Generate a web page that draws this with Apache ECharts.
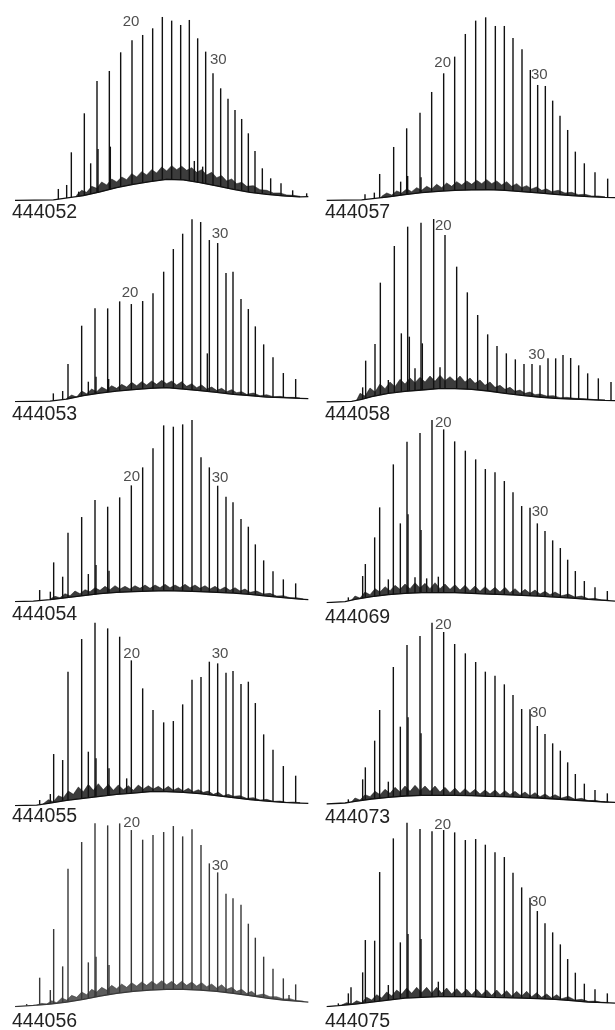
<!DOCTYPE html>
<html>
<head>
<meta charset="utf-8">
<script src="https://cdn.jsdelivr.net/npm/echarts@6/dist/echarts.min.js"></script>
<style>
html,body{margin:0;padding:0;background:#fff;}
#chart{width:615px;height:1030px;}
</style>
</head>
<body>
<div id="chart"></div>
<script>
// Gas chromatograms of ten samples. Units: retention (arbitrary, 0-930) vs. abundance (arbitrary, 0-600)
const sampleIds = ['444052','444057','444053','444058','444054','444069','444055','444073','444056','444075'];

// ---- 444052 ----
const peaks444052 = [[175,34],[200,46],[214,144],[236,26],[253,261],[272,111],[291,358],[294,154],[328,388],[331,161],[362,444],[396,480],[428,496],[458,516],[487,550],[515,539],[542,526],[568,541],[583,118],[593,486],[608,101],[617,446],[639,381],[662,336],[684,305],[705,271],[725,244],[745,201],[765,148],[787,96],[812,66],[843,51],[878,30],[920,21]];
const humpLow444052 = [[45,0],[160,1],[250,14],[300,25],[350,38],[400,48],[450,56],[500,63],[550,61],[600,53],[650,43],[700,33],[750,24],[800,18],[850,13],[900,10],[925,11]];
const humpHigh444052 = [[230,16],[245,30],[260,24],[275,42],[290,36],[305,55],[320,46],[335,64],[350,55],[365,70],[380,62],[395,80],[410,70],[425,86],[440,76],[455,92],[470,82],[485,100],[500,88],[515,104],[530,92],[545,102],[560,90],[575,98],[590,84],[605,92],[620,76],[635,84],[650,68],[665,74],[680,58],[695,64],[710,50],[725,54],[740,42],[760,44],[780,32],[800,30],[820,22],[840,22],[860,16],[880,15],[900,12]];
const tags444052 = [[393,536,'20'],[655,421,'30']];

// ---- 444057 ----
const peaks444057 = [[180,18],[208,23],[224,79],[266,160],[287,56],[305,216],[308,73],[345,263],[348,69],[380,325],[416,381],[449,431],[481,499],[512,539],[542,549],[571,523],[598,523],[624,487],[651,453],[676,391],[698,346],[721,343],[743,299],[765,254],[788,211],[811,146],[838,111],[870,84],[908,65]];
const humpLow444057 = [[65,0],[170,1],[250,10],[300,17],[350,23],[400,27],[450,30],[500,31],[550,32],[600,30],[650,26],[700,22],[750,18],[800,14],[850,11],[900,9],[930,8]];
const humpHigh444057 = [[230,12],[245,22],[260,16],[275,28],[290,22],[305,34],[320,26],[335,38],[350,30],[365,42],[380,34],[395,48],[410,38],[425,52],[440,42],[455,56],[470,46],[485,58],[500,48],[515,60],[530,50],[545,62],[560,50],[575,58],[590,46],[605,56],[620,42],[635,50],[650,38],[665,44],[680,34],[695,40],[710,30],[725,34],[740,26],[760,30],[780,22],[800,24],[820,17],[840,18],[860,13],[880,13],[900,10]];
const tags444057 = [[413,411,'20'],[703,375,'30']];

// ---- 444053 ----
const peaks444053 = [[160,25],[188,32],[204,113],[245,228],[265,60],[285,280],[288,75],[323,280],[326,68],[359,301],[394,293],[428,302],[459,325],[491,390],[520,458],[548,504],[576,547],[602,539],[622,145],[628,485],[653,476],[678,386],[699,390],[723,308],[745,278],[766,226],[791,172],[819,133],[850,86],[887,68]];
const humpLow444053 = [[45,0],[150,2],[200,8],[250,18],[300,26],[350,32],[400,36],[450,40],[500,42],[550,38],[600,33],[650,28],[700,22],[750,18],[800,14],[850,12],[900,10],[925,9]];
const humpHigh444053 = [[200,10],[215,20],[230,14],[245,32],[260,24],[275,38],[290,30],[305,44],[320,36],[335,48],[350,40],[365,52],[380,44],[395,58],[410,48],[425,60],[440,50],[455,62],[470,52],[485,64],[500,54],[515,62],[530,50],[545,60],[560,46],[575,54],[590,42],[605,50],[620,38],[635,44],[650,34],[665,40],[680,30],[695,36],[710,27],[725,30],[740,22],[760,26],[780,18],[800,21],[820,15],[840,16],[860,13],[880,13],[900,11]];
const tags444053 = [[390,327,'20'],[660,505,'30']];

// ---- 444058 ----
const peaks444058 = [[173,44],[182,124],[210,174],[226,358],[250,66],[268,468],[289,206],[308,526],[313,196],[330,101],[348,538],[352,176],[386,549],[405,104],[420,501],[455,406],[487,329],[518,261],[548,203],[576,168],[604,146],[631,128],[657,114],[681,114],[705,110],[729,131],[752,131],[774,141],[797,132],[821,110],[848,86],[880,71],[918,60]];
const humpLow444058 = [[65,0],[140,2],[170,8],[200,16],[250,26],[300,32],[350,36],[400,40],[450,40],[500,38],[550,33],[600,26],[650,20],[700,15],[750,11],[800,9],[850,7],[900,5],[930,4]];
const humpHigh444058 = [[155,6],[165,26],[180,18],[195,42],[210,30],[225,54],[240,40],[255,60],[270,46],[285,68],[300,54],[315,72],[330,58],[345,74],[360,60],[375,78],[390,62],[405,80],[420,64],[435,76],[450,62],[465,78],[480,60],[495,72],[510,56],[525,66],[540,50],[555,60],[570,44],[585,50],[600,38],[615,44],[630,32],[645,36],[660,26],[675,30],[690,22],[705,24],[725,18],[745,19],[765,13],[785,14],[810,11],[840,10],[870,7],[900,6]];
const tags444058 = [[415,528,'20'],[695,141,'30']];

// ---- 444054 ----
const peaks444054 = [[119,35],[151,30],[161,118],[188,75],[204,207],[245,254],[265,83],[285,305],[288,110],[323,285],[327,93],[359,313],[394,349],[428,403],[459,460],[491,529],[520,525],[548,532],[576,545],[603,433],[628,403],[653,348],[678,315],[699,298],[723,248],[745,225],[766,172],[791,124],[819,91],[850,67],[887,55]];
const humpLow444054 = [[45,0],[100,2],[150,6],[200,12],[250,18],[300,24],[350,28],[400,30],[450,32],[500,33],[550,32],[600,30],[650,28],[700,26],[750,22],[800,17],[850,12],[900,8],[925,6]];
const humpHigh444054 = [[150,8],[165,16],[180,12],[195,24],[210,18],[225,32],[240,24],[255,36],[270,30],[285,42],[300,34],[315,46],[330,36],[345,48],[360,38],[375,46],[390,38],[405,48],[420,40],[435,50],[450,40],[465,50],[480,42],[495,52],[510,42],[525,50],[540,42],[555,52],[570,42],[585,50],[600,40],[615,48],[630,38],[645,46],[660,36],[675,44],[690,34],[705,42],[720,32],[735,38],[750,28],[770,32],[790,23],[810,25],[830,17],[850,18],[870,12],[890,12],[910,8]];
const tags444054 = [[395,375,'20'],[660,373,'30']];

// ---- 444069 ----
const peaks444069 = [[130,16],[173,80],[181,116],[209,196],[224,286],[250,70],[265,415],[286,238],[306,483],[309,265],[330,76],[345,509],[348,218],[365,73],[381,548],[400,78],[416,520],[449,484],[481,456],[512,430],[541,401],[570,391],[598,365],[624,331],[650,290],[675,285],[697,238],[720,215],[743,187],[766,164],[788,129],[811,95],[838,65],[870,46],[907,35]];
const humpLow444069 = [[65,0],[120,3],[150,10],[200,18],[250,24],[300,28],[350,30],[400,30],[450,30],[500,28],[550,26],[600,24],[650,22],[700,20],[750,17],[800,14],[850,10],[900,7],[930,5]];
const humpHigh444069 = [[140,8],[150,20],[165,14],[180,32],[195,24],[210,42],[225,32],[240,48],[255,36],[270,52],[285,40],[300,56],[315,42],[330,60],[345,44],[360,58],[375,42],[390,60],[405,42],[420,56],[435,40],[450,54],[465,38],[480,52],[495,36],[510,50],[525,34],[540,48],[555,34],[570,46],[585,32],[600,46],[615,30],[630,42],[645,28],[660,40],[675,28],[690,38],[705,26],[720,34],[735,24],[750,32],[770,21],[790,26],[810,17],[830,20],[850,12],[870,13],[890,8],[910,8]];
const tags444069 = [[415,541,'20'],[705,273,'30']];

// ---- 444055 ----
const peaks444055 = [[119,17],[151,35],[161,155],[188,137],[204,402],[245,500],[265,162],[285,549],[288,142],[323,532],[327,112],[359,507],[380,82],[394,436],[428,352],[459,287],[491,250],[520,254],[548,304],[576,378],[603,386],[628,432],[653,427],[678,399],[699,404],[723,365],[745,372],[766,308],[791,214],[819,168],[850,119],[887,90]];
const humpLow444055 = [[45,0],[110,2],[150,8],[200,16],[250,22],[300,28],[350,34],[400,38],[450,42],[500,42],[550,40],[600,36],[650,30],[700,24],[750,18],[800,14],[850,10],[900,8],[925,7]];
const humpHigh444055 = [[130,6],[145,18],[160,12],[175,30],[190,24],[205,44],[220,34],[235,56],[250,42],[265,64],[280,46],[295,66],[310,48],[325,64],[340,46],[355,62],[370,48],[385,60],[400,46],[415,62],[430,50],[445,60],[460,50],[475,58],[490,48],[505,58],[520,46],[535,54],[550,44],[565,52],[580,42],[595,48],[610,40],[625,44],[640,34],[655,40],[670,30],[685,34],[700,28],[720,30],[740,22],[760,24],[780,17],[800,19],[820,13],[840,14],[860,10],[880,11],[900,9]];
const tags444055 = [[395,457,'20'],[660,455,'30']];

// ---- 444073 ----
const peaks444073 = [[130,14],[173,74],[181,110],[209,190],[224,282],[250,67],[265,411],[286,232],[306,477],[309,260],[345,504],[348,212],[381,544],[416,516],[449,480],[481,452],[512,426],[541,397],[570,385],[598,359],[624,327],[650,285],[675,284],[697,234],[720,210],[743,182],[766,160],[788,125],[811,90],[838,61],[870,42],[907,32]];
const humpLow444073 = [[65,0],[120,3],[150,8],[200,15],[250,20],[300,24],[350,26],[400,26],[450,26],[500,25],[550,23],[600,22],[650,20],[700,18],[750,15],[800,12],[850,9],[900,6],[930,5]];
const humpHigh444073 = [[140,7],[150,18],[165,12],[180,28],[195,22],[210,38],[225,28],[240,44],[255,32],[270,50],[285,36],[300,54],[315,38],[330,56],[345,40],[360,54],[375,38],[390,54],[405,36],[420,50],[435,34],[450,48],[465,32],[480,46],[495,32],[510,44],[525,30],[540,42],[555,30],[570,42],[585,28],[600,40],[615,28],[630,38],[645,26],[660,36],[675,24],[690,34],[705,22],[720,30],[735,20],[750,28],[770,18],[790,24],[810,14],[830,17],[850,10],[870,11],[890,7],[910,7]];
const tags444073 = [[415,536,'20'],[700,274,'30']];

// ---- 444056 ----
const peaks444056 = [[80,8],[119,87],[151,50],[161,233],[188,121],[204,414],[245,494],[265,133],[285,550],[288,150],[323,544],[327,125],[359,550],[394,530],[428,501],[459,515],[491,524],[520,542],[548,511],[576,532],[603,485],[628,430],[653,403],[678,339],[699,325],[723,306],[745,249],[766,207],[791,150],[819,114],[850,85],[867,35],[887,67]];
const humpLow444056 = [[45,0],[100,4],[150,8],[200,14],[250,22],[300,32],[350,40],[400,46],[450,50],[500,52],[550,52],[600,50],[650,46],[700,40],[750,33],[800,26],[850,20],[900,16],[925,14]];
const humpHigh444056 = [[110,5],[125,10],[140,8],[155,18],[170,12],[185,26],[200,20],[215,34],[230,28],[245,44],[260,36],[275,52],[290,44],[305,58],[320,50],[335,64],[350,54],[365,68],[380,58],[395,72],[410,62],[425,74],[440,64],[455,76],[470,66],[485,78],[500,66],[515,76],[530,64],[545,76],[560,64],[575,74],[590,62],[605,72],[620,60],[635,68],[650,56],[665,66],[680,52],[695,58],[710,46],[725,52],[740,40],[755,46],[770,34],[790,38],[810,30],[830,30],[850,23],[870,24],[890,18],[910,17]];
const tags444056 = [[395,553,'20'],[660,423,'30']];

// ---- 444075 ----
const peaks444075 = [[100,10],[130,40],[138,58],[173,103],[181,200],[209,198],[224,404],[250,65],[265,505],[286,193],[306,552],[309,218],[345,533],[348,203],[381,526],[400,75],[416,530],[449,523],[481,500],[512,503],[541,486],[570,463],[598,449],[624,402],[650,358],[675,327],[697,287],[720,250],[743,223],[766,187],[788,143],[811,102],[838,69],[870,52],[907,40]];
const humpLow444075 = [[65,0],[100,3],[150,8],[200,14],[250,20],[300,26],[350,28],[400,30],[450,30],[500,30],[550,28],[600,27],[650,26],[700,24],[750,22],[800,18],[850,14],[900,12],[930,11]];
const humpHigh444075 = [[110,5],[125,12],[140,8],[155,18],[170,12],[185,28],[200,20],[215,36],[230,26],[245,44],[260,32],[275,50],[290,38],[305,56],[320,40],[335,58],[350,42],[365,58],[380,40],[395,58],[410,40],[425,56],[440,38],[455,54],[470,38],[485,52],[500,36],[515,52],[530,36],[545,50],[560,34],[575,50],[590,34],[605,48],[620,32],[635,46],[650,32],[665,46],[680,30],[695,42],[710,28],[725,38],[740,26],[755,36],[770,24],[790,30],[810,20],[830,22],[850,16],[870,17],[890,13],[910,13]];
const tags444075 = [[413,545,'20'],[700,315,'30']];

const peakSets = [peaks444052,peaks444057,peaks444053,peaks444058,peaks444054,peaks444069,peaks444055,peaks444073,peaks444056,peaks444075];
const lowSets = [humpLow444052,humpLow444057,humpLow444053,humpLow444058,humpLow444054,humpLow444069,humpLow444055,humpLow444073,humpLow444056,humpLow444075];
const highSets = [humpHigh444052,humpHigh444057,humpHigh444053,humpHigh444058,humpHigh444054,humpHigh444069,humpHigh444055,humpHigh444073,humpHigh444056,humpHigh444075];
const tagSets = [tags444052,tags444057,tags444053,tags444058,tags444054,tags444069,tags444055,tags444073,tags444056,tags444075];

// ---- layout (pixels) ----
const baselines = [200.3,200.3,401.7,402,601.7,602.7,805.7,804,1006.7,1006.7];
const labelCenters = [213,213,415,415,615.5,618.5,817,818.5,1022.5,1022.5];
const traceColors = ['#111','#111','#111','#111','#111','#111','#111','#111','#383838','#111'];

function baseAt(low, x){
  if (x <= low[0][0]) return low[0][1];
  for (let i=1;i<low.length;i++){
    if (x <= low[i][0]){
      const a=low[i-1], b=low[i];
      return a[1] + (b[1]-a[1])*(x-a[0])/(b[0]-a[0]);
    }
  }
  return low[low.length-1][1];
}

const grids=[], xAxes=[], yAxes=[], series=[], titles=[];
sampleIds.forEach((id,i)=>{
  const col = i%2;
  const left = col===0 ? 0 : 305;
  grids.push({left:left, top:baselines[i]-200, width:310, height:200});
  xAxes.push({type:'value', gridIndex:i, min:0, max:930, show:false});
  yAxes.push({type:'value', gridIndex:i, min:0, max:600, show:false});
  titles.push({text:id, left: col===0?12:325, top: labelCenters[i]-10.8, padding:0,
    textStyle:{fontSize:19.5, fontWeight:'normal', color:'#222', fontFamily:'Liberation Sans, Arial, sans-serif'}});
  const low = lowSets[i];
  const high = highSets[i];
  const color = traceColors[i];
  const x0 = high[0][0], x1 = high[high.length-1][0];
  // noise band (unresolved complex mixture)
  series.push({type:'custom', xAxisIndex:i, yAxisIndex:i, data:[[0,0]], silent:true, z:1,
    renderItem:(params, api)=>{
      const pts = [api.coord([x0, baseAt(low,x0)])];
      high.forEach(p=>pts.push(api.coord([p[0],p[1]])));
      pts.push(api.coord([x1, baseAt(low,x1)]));
      for (let k=low.length-1;k>=0;k--) if (low[k][0]>x0 && low[k][0]<x1) pts.push(api.coord([low[k][0],low[k][1]]));
      return {type:'polygon', shape:{points:pts}, style:{fill:color, opacity:0.82, stroke:color, lineWidth:0.6}};
    }});
  // hump baseline
  series.push({type:'line', xAxisIndex:i, yAxisIndex:i, data:low, symbol:'none', silent:true, z:2,
    lineStyle:{color:color, width:1.3}, animation:false});
  // peaks
  series.push({type:'custom', xAxisIndex:i, yAxisIndex:i, data:peakSets[i], silent:true, z:3,
    renderItem:(params, api)=>{
      const x = api.value(0), h = api.value(1);
      const b = baseAt(low, x);
      const p0 = api.coord([x, b]), p1 = api.coord([x, h]);
      return {type:'line', shape:{x1:p0[0],y1:p0[1],x2:p1[0],y2:p1[1]}, style:{stroke:color, lineWidth:1.4}};
    }});
  // carbon number tags
  series.push({type:'scatter', xAxisIndex:i, yAxisIndex:i, data:tagSets[i], symbolSize:0, silent:true, z:4,
    label:{show:true, position:'inside', formatter:p=>p.data[2], fontSize:15, color:'#222',
      fontFamily:'Liberation Sans, Arial, sans-serif'}});
});

const chart = echarts.init(document.getElementById('chart'), null, {renderer:'canvas'});
chart.setOption({animation:false, backgroundColor:'#fff', title:titles, grid:grids, xAxis:xAxes, yAxis:yAxes, series:series});
</script>
</body>
</html>
